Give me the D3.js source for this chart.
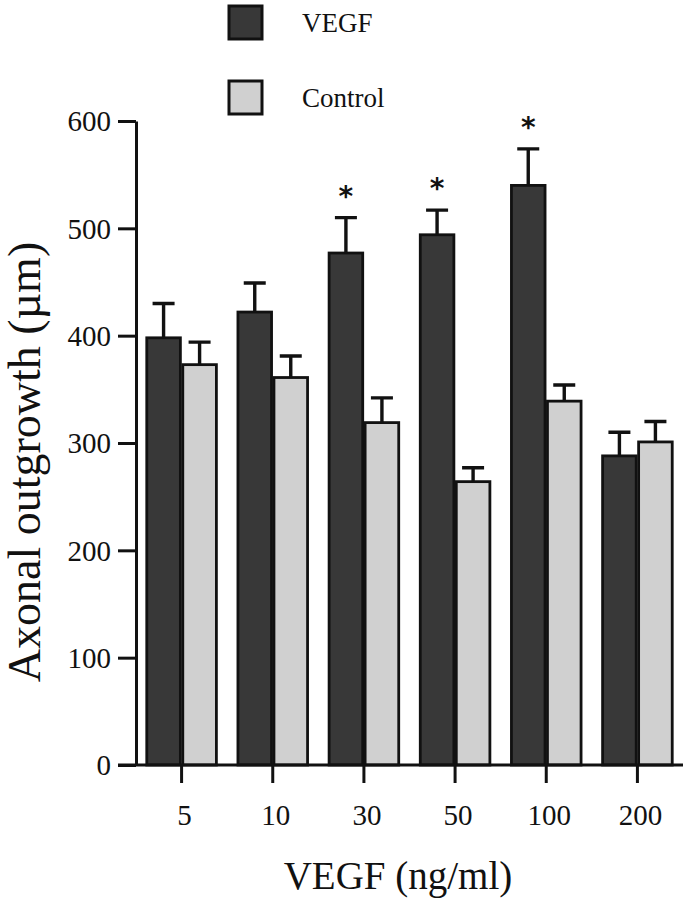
<!DOCTYPE html>
<html>
<head>
<meta charset="utf-8">
<script src="https://cdn.jsdelivr.net/npm/d3@7/dist/d3.min.js"></script>
<style>
  html, body { margin: 0; padding: 0; background: #fff; }
  svg { display: block; }
  text { font-family: "Liberation Serif", "Times New Roman", serif; fill: #111; }
</style>
</head>
<body>
<svg id="chart" width="690" height="900"></svg>
<script>
// ---- Data ----
const categories = ["5", "10", "30", "50", "100", "200"];
const seriesNames = ["VEGF", "Control"];
const vegfValues = [398, 422, 477, 494, 540, 288];
const vegfErrTop = [430, 449, 510, 517, 574, 310];
const controlValues = [373, 361, 319, 264, 339, 301];
const controlErrTop = [394, 381, 342, 277, 354, 320];
const significant = [false, false, true, true, true, false];
const yTicks = [0, 100, 200, 300, 400, 500, 600];

const svg = d3.select("#chart");
const margin = { left: 136, right: 7, top: 121, bottom: 135 };
const W = 690, H = 900;

const y = d3.scaleLinear().domain([0, 600]).range([H - margin.bottom, margin.top]);
const x = d3.scaleBand().domain(categories)
  .range([margin.left, W - margin.right])
  .paddingInner(0.21).paddingOuter(0.105);
const xs = d3.scaleBand().domain(seriesNames).range([0, x.bandwidth()]);
const color = d3.scaleOrdinal().domain(seriesNames).range(["#383838", "#d0d0d0"]);

const rows = categories.map((c, i) => ({
  cat: c,
  sig: significant[i],
  bars: [
    { s: "VEGF", v: vegfValues[i], e: vegfErrTop[i] },
    { s: "Control", v: controlValues[i], e: controlErrTop[i] }
  ]
}));

// Bars
const g = svg.append("g");
const groups = g.selectAll("g.grp").data(rows).join("g")
  .attr("class", "grp")
  .attr("transform", d => `translate(${x(d.cat)},0)`);

groups.selectAll("rect").data(d => d.bars).join("rect")
  .attr("x", d => xs(d.s) + 1.2)
  .attr("y", d => y(d.v))
  .attr("width", xs.bandwidth() - 2.4)
  .attr("height", d => y(0) - y(d.v))
  .attr("fill", d => color(d.s))
  .attr("stroke", "#111")
  .attr("stroke-width", 2.8);

// Error bars (upper only)
const capW = 22;
groups.selectAll("path.err").data(d => d.bars).join("path")
  .attr("class", "err")
  .attr("d", d => {
    const cx = xs(d.s) + xs.bandwidth() / 2;
    return `M${cx},${y(d.v)}V${y(d.e)}M${cx - capW / 2},${y(d.e)}H${cx + capW / 2}`;
  })
  .attr("fill", "none")
  .attr("stroke", "#111")
  .attr("stroke-width", 3.4);

// Significance stars
groups.filter(d => d.sig).append("text")
  .attr("x", xs("VEGF") + xs.bandwidth() / 2)
  .attr("y", d => y(d.bars[0].e) - 12)
  .attr("text-anchor", "middle")
  .style("font-family", "'DejaVu Sans', sans-serif")
  .style("font-weight", "bold")
  .style("font-size", "28px")
  .text("*");

// Y axis
const yAxis = svg.append("g")
  .attr("transform", `translate(${margin.left},0)`)
  .call(d3.axisLeft(y).tickValues(yTicks).tickSize(18).tickPadding(7).tickSizeOuter(0));
yAxis.attr("font-family", null).attr("font-size", null);
yAxis.select(".domain").attr("stroke", "#111").attr("stroke-width", 3);
yAxis.selectAll(".tick line").attr("stroke", "#111").attr("stroke-width", 3);
yAxis.selectAll(".tick text")
  .style("font-family", "'Liberation Serif', serif")
  .style("font-size", "29px")
  .attr("fill", "#111")
  .attr("dy", "0.34em");

// X axis
const xAxis = svg.append("g")
  .attr("transform", `translate(0,${y(0)})`)
  .call(d3.axisBottom(x).tickSize(18).tickPadding(0).tickSizeOuter(0));
xAxis.attr("font-family", null).attr("font-size", null);
xAxis.select(".domain")
  .attr("d", `M${margin.left - 18},0H${W - margin.right}`)
  .attr("stroke", "#111").attr("stroke-width", 3);
xAxis.selectAll(".tick line").attr("stroke", "#111").attr("stroke-width", 3);
xAxis.selectAll(".tick text")
  .style("font-family", "'Liberation Serif', serif")
  .style("font-size", "29px")
  .attr("fill", "#111")
  .attr("x", 3)
  .attr("y", 60)
  .attr("dy", 0);

// Axis titles
svg.append("text")
  .attr("x", 398).attr("y", 889)
  .attr("text-anchor", "middle")
  .style("font-size", "39px")
  .text("VEGF (ng/ml)");

svg.append("text")
  .attr("transform", "translate(40,462) rotate(-90)")
  .attr("text-anchor", "middle")
  .style("font-size", "46px")
  .text("Axonal outgrowth (\u00b5m)");

// Legend
const legend = svg.append("g");
const legRows = legend.selectAll("g").data(seriesNames).join("g")
  .attr("transform", (d, i) => `translate(229,${6 + i * 75})`);
legRows.append("rect")
  .attr("width", 33).attr("height", 33)
  .attr("fill", d => color(d))
  .attr("stroke", "#111").attr("stroke-width", 3);
legRows.append("text")
  .attr("x", 73).attr("y", 26)
  .style("font-size", "27px")
  .text(d => d);
</script>
</body>
</html>
